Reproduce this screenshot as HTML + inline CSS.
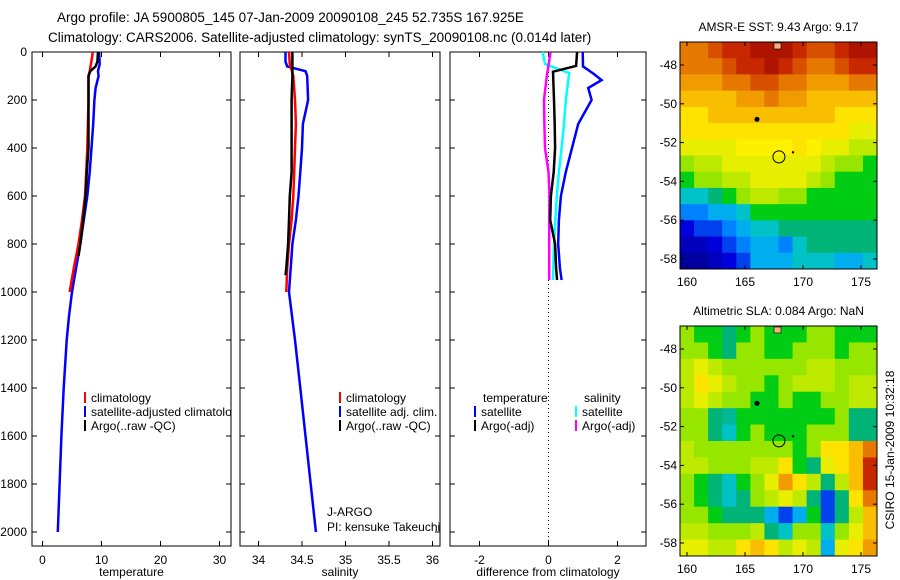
<!DOCTYPE html>
<html><head><meta charset="utf-8"><style>
html,body{margin:0;padding:0;background:#fff;}
svg{display:block;font-family:"Liberation Sans",sans-serif;}
text{font-size:12px;fill:#000;}
</style></head><body>
<svg id="chart" width="900" height="580" viewBox="0 0 900 580" xmlns="http://www.w3.org/2000/svg">
<text x="57" y="22" style="font-size:13.5px">Argo profile: JA 5900805_145 07-Jan-2009 20090108_245 52.735S 167.925E</text>
<text x="48" y="42" style="font-size:13.5px">Climatology: CARS2006. Satellite-adjusted climatology: synTS_20090108.nc (0.014d later)</text>
<g id="g"></g>
</svg>
<script>
// ---- data ----
const depthTicks=[0,200,400,600,800,1000,1200,1400,1600,1800,2000];
const tempTicks=[0,10,20,30];
const salTicks=[34,34.5,35,35.5,36];
const diffTicks=[-2,0,2];
const climTDepth=[0,20,50,80,100,200,300,400,500,600,700,800,900,1000];
const climT=[8.5,8.4,8.2,8.0,7.8,7.8,7.7,7.6,7.4,7.2,6.7,6.1,5.3,4.6];
const satTDepth=[0,50,80,100,150,200,300,400,500,600,700,800,900,1000,1100,1200,1400,1600,1800,2000];
const satT=[9.6,9.7,9.4,9.5,9.0,8.8,8.6,8.3,8.0,7.6,7.0,6.4,5.7,5.0,4.5,4.1,3.6,3.2,2.9,2.6];
const argoTDepth=[0,40,60,80,100,200,300,400,500,600,700,800,850];
const argoT=[9.4,9.3,9.0,8.1,7.8,7.8,7.8,7.8,7.5,7.3,6.9,6.4,6.1];
const climSDepth=[0,50,100,200,300,400,500,600,700,800,900,1000];
const climS=[34.35,34.36,34.40,34.42,34.43,34.42,34.41,34.40,34.38,34.35,34.33,34.32];
const satSDepth=[0,40,60,80,100,200,300,400,500,600,700,800,900,1000,1200,1400,1600,1800,2000];
const satS=[34.31,34.31,34.33,34.54,34.56,34.57,34.51,34.50,34.48,34.46,34.43,34.39,34.37,34.35,34.42,34.48,34.54,34.60,34.66];
const argoSDepth=[0,100,200,300,400,500,600,700,800,900,930];
const argoS=[34.39,34.39,34.38,34.38,34.38,34.38,34.36,34.35,34.34,34.32,34.31];
const dSatTDepth=[0,60,90,117,150,200,300,400,500,600,700,800,900,950];
const dSatT=[0.99,1.0,1.3,1.54,1.15,1.25,0.86,0.68,0.5,0.36,0.3,0.28,0.33,0.38];
const dSatSDepth=[0,50,88,200,300,400,500,600,700,800,900,950];
const dSatS=[-0.17,-0.1,0.6,0.5,0.45,0.38,0.3,0.24,0.2,0.16,0.14,0.13];
const dArgoTDepth=[0,58,82,200,300,400,500,600,700,800,900,950];
const dArgoT=[0.83,0.8,0.13,0.16,0.18,0.19,0.15,0.07,0.05,0.19,0.22,0.25];
const dArgoSDepth=[0,100,200,300,400,500,600,700,800,900,950];
const dArgoS=[0.06,-0.05,-0.13,-0.12,-0.1,0,0.03,0.02,0.02,0.02,0.02];
const lonTicks=[160,165,170,175];
const latTicks=[-48,-50,-52,-54,-56,-58];
const sstGrid=[
[8,8,8.5,9,9,9.5,9.5,9.5,9,8.5,8.5,9,9.5,9.5],
[8,8,8,8.5,9,9,9.5,9,8.5,8,8,8.5,9,9],
[7.5,7.5,7.5,8,8,8.5,8.5,8,8,7.5,7.5,7.5,8,8],
[7,7,7,7,7.5,7.5,8,7.5,7.5,7,7,7,7,7],
[6.5,6.5,7,7,7,7,7,7,7,7,7,6.5,6.5,6.5],
[6.5,6.5,6.5,6.5,6.5,6.5,6.5,6.5,6.5,6.5,6.5,6.5,6,6],
[6,6,6,6,6.3,6.3,6.3,6.3,6.5,6.3,6,6,5.5,5.5],
[5,5.5,5.5,6,6,6,6,6,6,6,5.5,5,5,4.5],
[4.5,5,5,5.5,5.5,6,6,6,6,5.5,5,4.5,4.5,4.5],
[3.5,3.5,4,4.5,5,5.5,5.5,5,5,4.5,4.5,4.5,4.5,4.5],
[2.5,2.5,3,3,3.5,4.5,4.5,4.5,4.5,4.5,4.5,4.5,4.5,4.5],
[1.5,2,2,2.5,3,3.5,3.5,4,4,4,4,4,4,4],
[1,1,1.5,2,2.5,3,3,2.5,3.5,4,4,4,4,4],
[0.5,0.5,1,1.5,2,3,3,3,3.5,3.5,3.5,3,3,3.5]];
const slaGrid=[
[5,4.5,4.5,4,4.5,5,4.5,4.5,4.5,5,5,4.5,4.5,4.5],
[5,5,4.5,4,5,5,4.5,4.5,5,5,5,4.5,5,5],
[5.5,6,5.5,5,5,5,5,5,5,5.5,5.5,5,5,5],
[5.5,6.5,6,5.5,5,5,4.5,5,5.5,5.5,5.5,5,5.5,5.5],
[5.5,6,5.5,5,5,4.5,4.5,5,4.5,4.5,5,5,5.5,5.5],
[5,5,4,3.8,4.5,4.5,4.5,4.5,4.5,4.5,4.5,5,4,4],
[5,5,4,3.5,4.5,5,4.5,4.5,4.5,5,5,5,4,4],
[5.5,5,5,5,5,5,5,5,4.5,5,6.5,6.5,7,8],
[5.5,5.5,5,5,5,5.5,5.5,6.5,4.5,4,6,6.5,7,9],
[5,4.5,4,3.5,4.5,5,6,7.5,6.5,5.5,4,5.5,7,9],
[5,4.5,4,3.5,4,5,5.5,6,5.5,4,2,4,6.5,8],
[5,5,4.5,4,4,4,3,2,3,4.5,2,4,5.5,7],
[5.5,5.5,5,5,5,5.5,4,3.5,5,5,3.5,5,6,7],
[6,6,5.5,5.5,6.5,7,6.5,5.5,6,5.5,3,6,6.5,7.5]];

// ---- helpers ----
const NS="http://www.w3.org/2000/svg";
const G=document.getElementById('g');
function mk(tag,attrs,parent){const e=document.createElementNS(NS,tag);for(const k in attrs)e.setAttribute(k,attrs[k]);(parent||G).appendChild(e);return e;}
function txt(x,y,s,anchor,size){const t=mk('text',{x:x,y:y,'text-anchor':anchor||'start'});if(size)t.style.fontSize=size+'px';t.textContent=s;return t;}
const Y0=52, PXM=0.24, YB=546;
const yD=d=>Y0+d*PXM;
const xT=v=>42.5+v*5.9;
const xS=v=>258.5+(v-34)*87;
const xDf=v=>548.5+v*34.5;
const panels=[{l:32,r:231,x:xT,ticks:tempTicks,lab:'temperature',name:'temperature-panel'},
{l:240,r:440,x:xS,ticks:salTicks,lab:'salinity',name:'salinity-panel'},
{l:450,r:646,x:xDf,ticks:diffTicks,lab:'difference from climatology',name:'difference-panel'}];
panels.forEach((p,i)=>{
  const fr=mk('rect',{x:p.l,y:Y0,width:p.r-p.l,height:YB-Y0,fill:'none',stroke:'#000','stroke-width':1});
  
  
  p.ticks.forEach(v=>{const x=p.x(v);
    mk('line',{x1:x,y1:YB,x2:x,y2:YB-5,stroke:'#000'});mk('line',{x1:x,y1:Y0,x2:x,y2:Y0+5,stroke:'#000'});
    const t=txt(x,564,String(v),'middle');
    
    
  });
  depthTicks.forEach(d=>{const y=yD(d);
    mk('line',{x1:p.l,y1:y,x2:p.l+5,y2:y,stroke:'#000'});mk('line',{x1:p.r,y1:y,x2:p.r-5,y2:y,stroke:'#000'});
    if(i===0){const t=txt(27,y+4,String(d),'end');
      
      }
  });
  const at=txt((p.l+p.r)/2,576,p.lab,'middle');
  
  
});
function line(xs,ds,xf,col,name,w){
  const pts=xs.map((v,i)=>xf(v).toFixed(1)+','+yD(ds[i]).toFixed(1)).join(' ');
  const e=mk('polyline',{points:pts,fill:'none',stroke:col,'stroke-width':w||2.5});
  
  
}
const z=mk('line',{x1:xDf(0),y1:Y0,x2:xDf(0),y2:YB,stroke:'#000','stroke-dasharray':'1,3'});


line(satT,satTDepth,xT,'#0000ff','temp-satellite-line');
line(climT,climTDepth,xT,'#ff0000','temp-climatology-line');
line(argoT,argoTDepth,xT,'#000','temp-argo-line');
line(satS,satSDepth,xS,'#0000ff','sal-satellite-line');
line(climS,climSDepth,xS,'#ff0000','sal-climatology-line');
line(argoS,argoSDepth,xS,'#000','sal-argo-line');
line(dSatT,dSatTDepth,xDf,'#0000ff','diff-temp-satellite-line');
line(dSatS,dSatSDepth,xDf,'#00ffff','diff-sal-satellite-line');
line(dArgoS,dArgoSDepth,xDf,'#ff00ff','diff-sal-argo-line');
line(dArgoT,dArgoTDepth,xDf,'#000','diff-temp-argo-line');
function leg(x,y,col,s,name){ if(col){mk('rect',{x:x,y:y-6,width:2,height:11,fill:col});}
  const t=txt(x+7,y+4,s);}
const lg=mk('clipPath',{id:'c1'});mk('rect',{x:32,y:380,width:199,height:60},lg);
leg(84,398,'#ff0000','climatology','legend-climatology');
const g1=mk('g',{'clip-path':'url(#c1)'});
const t1=mk('text',{x:91,y:416},g1);t1.textContent='satellite-adjusted climatology';

mk('rect',{x:84,y:406,width:2,height:11,fill:'#0000ff'});
leg(84,426,'#000','Argo(..raw -QC)','legend-argo');
leg(339,398,'#ff0000','climatology','legend2-climatology');
leg(339,412,'#0000ff','satellite adj. clim.','legend2-satellite');
leg(339,426,'#000','Argo(..raw -QC)','legend2-argo');
leg(476,398,null,'temperature','legend3-temperature');
leg(577,398,null,'salinity','legend3-salinity');
leg(474,412,'#0000ff','satellite','legend3-temp-satellite');
leg(474,426,'#000','Argo(-adj)','legend3-temp-argo');
leg(575,412,'#00ffff','satellite','legend3-sal-satellite');
leg(575,426,'#ff00ff','Argo(-adj)','legend3-sal-argo');
let a=txt(327,516,'J-ARGO');
a=txt(327,531,'PI: kensuke Takeuchi');
// colormap (approximating reference palette)
const cmapStops=[[0,0,0,128],[1.5,0,0,220],[2.5,0,130,255],[3.3,0,200,230],[4,0,180,120],[4.6,0,210,0],[5.0,150,230,0],[6.3,255,240,0],[7,250,190,0],[8,230,120,0],[9,200,40,0],[10,150,0,0]];
function cmap(v){
  v=Math.max(0,Math.min(10,v));
  for(let i=0;i<cmapStops.length-1;i++){const a=cmapStops[i],b=cmapStops[i+1];
    if(v<=b[0]){const f=(v-a[0])/(b[0]-a[0]);
      return 'rgb('+[1,2,3].map(k=>Math.round(a[k]+(b[k]-a[k])*f)).join(',')+')';}}
  return 'rgb(150,0,0)';
}
const ML=680,MR=877;
const xLon=lo=>687+(lo-160)*11.6;
function map(top,bot,y48,grid,title,name){
  const rows=grid.length,cols=grid[0].length,cw=(MR-ML)/cols,ch=(bot-top)/rows;
  grid.forEach((row,ri)=>row.forEach((v,ci)=>{
    const c=mk('rect',{x:ML+ci*cw,y:top+ri*ch,width:cw+0.5,height:ch+0.5,fill:cmap(v)});
    
    
  }));
  const f=mk('rect',{x:ML,y:top,width:MR-ML,height:bot-top,fill:'none',stroke:'#000'});
  
  const yl=la=>y48+(-48-la)*19.4;
  lonTicks.forEach(lo=>{const x=xLon(lo);mk('line',{x1:x,y1:bot,x2:x,y2:bot-4,stroke:'#000'});mk('line',{x1:x,y1:top,x2:x,y2:top+4,stroke:'#000'});
    const t=txt(x,bot+17,String(lo),'middle');});
  latTicks.forEach(la=>{const y=yl(la);mk('line',{x1:ML,y1:y,x2:ML+4,y2:y,stroke:'#000'});mk('line',{x1:MR,y1:y,x2:MR-4,y2:y,stroke:'#000'});
    const t=txt(ML-3,y+4,String(la),'end');});
  const tt=txt((ML+MR)/2,top-11,title,'middle');
  mk('circle',{cx:xLon(167.925),cy:yl(-52.735),r:6,fill:'none',stroke:'#000'});
  mk('circle',{cx:757,cy:yl(-50.8),r:2.5,fill:'#000'});
  mk('circle',{cx:793,cy:yl(-52.5),r:1.2,fill:'#000'});
  mk('rect',{x:774,y:top+1,width:7,height:6,fill:'#f4b080',stroke:'#000','stroke-width':0.6});
}
map(42,269,65,sstGrid,'AMSR-E SST: 9.43  Argo: 9.17','sst-map');
map(326,556,349,slaGrid,'Altimetric SLA: 0.084  Argo: NaN','sla-map');
const cs=txt(0,0,'CSIRO 15-Jan-2009 10:32:18','middle');
cs.setAttribute('transform','translate(894,450) rotate(-90)');


</script>
</body></html>
